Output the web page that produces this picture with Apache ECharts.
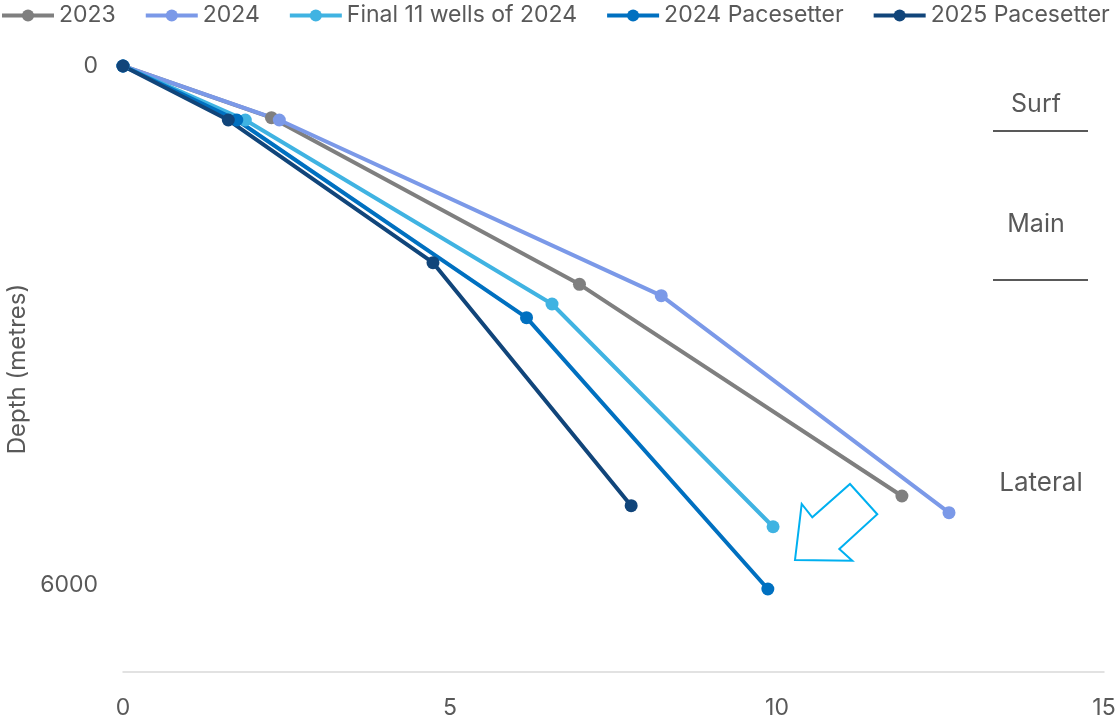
<!DOCTYPE html>
<html>
<head>
<meta charset="utf-8">
<script src="https://cdn.jsdelivr.net/npm/echarts@6/dist/echarts.min.js"></script>
<style>html,body{margin:0;padding:0;background:#fff}#c{width:1119px;height:723px}</style>
</head>
<body>
<div id="c"></div>
<script>
// Data: [time (x), depth in metres (y)]
const seriesNames = ['2023', '2024', 'Final 11 wells of 2024', '2024 Pacesetter', '2025 Pacesetter'];
const data2023 = [[0, 0], [2.27, 597], [6.98, 2522], [11.91, 4967]];
const data2024 = [[0, 0], [2.39, 624], [8.23, 2653], [12.63, 5160]];
const dataFinal11 = [[0, 0], [1.87, 624], [6.56, 2749], [9.94, 5322]];
const data2024Pace = [[0, 0], [1.74, 624], [6.17, 2907], [9.86, 6041]];
const data2025Pace = [[0, 0], [1.61, 624], [4.74, 2272], [7.77, 5079]];
const xTicks = [0, 5, 10, 15];
const yTicks = [0, 6000];
const sectionLabels = ['Surf', 'Main', 'Lateral'];

const colors = ['#7f7f7f', '#7b99e8', '#40b3e2', '#0070c0', '#11457a'];
const allData = [data2023, data2024, dataFinal11, data2024Pace, data2025Pace];
const textColor = '#595959';
const fontFamily = 'Inter, "Noto Sans", sans-serif';

const chart = echarts.init(document.getElementById('c'), null, {renderer: 'canvas'});
const option = {
  animation: false,
  color: colors,
  textStyle: {fontFamily: fontFamily},
  legend: {
    left: 0, top: 4, padding: 0, width: 1119,
    itemWidth: 52, itemHeight: 15, itemGap: 28,
    lineStyle: {width: 4},
    textStyle: {color: textColor, fontSize: 23, fontFamily: fontFamily},
    data: seriesNames
  },
  grid: {left: 123, right: 15, top: 66, bottom: 51, containLabel: false, outerBoundsMode: 'none'},
  xAxis: {
    type: 'value', min: 0, max: 15, interval: 5,
    axisLine: {show: true, onZero: false, lineStyle: {color: '#d9d9d9', width: 1.5}},
    axisTick: {show: false},
    splitLine: {show: false},
    axisLabel: {color: textColor, fontSize: 23, margin: 25, fontFamily: fontFamily,
      formatter: v => xTicks.includes(v) ? String(v) : ''}
  },
  yAxis: {
    type: 'value', inverse: true, min: 0, max: 7000, interval: 6000,
    name: 'Depth (metres)', nameLocation: 'middle', nameGap: 90, nameRotate: 90,
    nameTextStyle: {color: textColor, fontSize: 24, fontFamily: fontFamily},
    axisLine: {show: false},
    axisTick: {show: false},
    splitLine: {show: false},
    axisLabel: {color: textColor, fontSize: 23, margin: 25, fontFamily: fontFamily, showMaxLabel: false,
      formatter: v => yTicks.includes(v) ? String(v) : ''}
  },
  series: seriesNames.map((n, i) => ({
    name: n, type: 'line', data: allData[i],
    symbol: 'circle', symbolSize: 13, showSymbol: true,
    lineStyle: {width: 4, color: colors[i]},
    itemStyle: {color: colors[i]},
    emphasis: {disabled: true}
  })),
  graphic: [
    {type: 'text', x: 1036, y: 104, style: {text: sectionLabels[0], fill: textColor, font: '25px ' + fontFamily, align: 'center', verticalAlign: 'middle'}},
    {type: 'line', shape: {x1: 993, y1: 131, x2: 1088, y2: 131}, style: {stroke: '#595959', lineWidth: 2}},
    {type: 'text', x: 1036, y: 224, style: {text: sectionLabels[1], fill: textColor, font: '25px ' + fontFamily, align: 'center', verticalAlign: 'middle'}},
    {type: 'line', shape: {x1: 993, y1: 280, x2: 1088, y2: 280}, style: {stroke: '#595959', lineWidth: 2}},
    {type: 'text', x: 1041, y: 483, style: {text: sectionLabels[2], fill: textColor, font: '26px ' + fontFamily, align: 'center', verticalAlign: 'middle'}},
    {type: 'polygon', shape: {points: [[850, 484], [877.3, 514.3], [839.3, 549], [852.3, 560.7], [795, 560], [801.7, 504], [812.3, 517.3]]},
      style: {fill: 'none', stroke: '#00b0f0', lineWidth: 2}}
  ]
};
chart.setOption(option);
</script>
</body>
</html>
